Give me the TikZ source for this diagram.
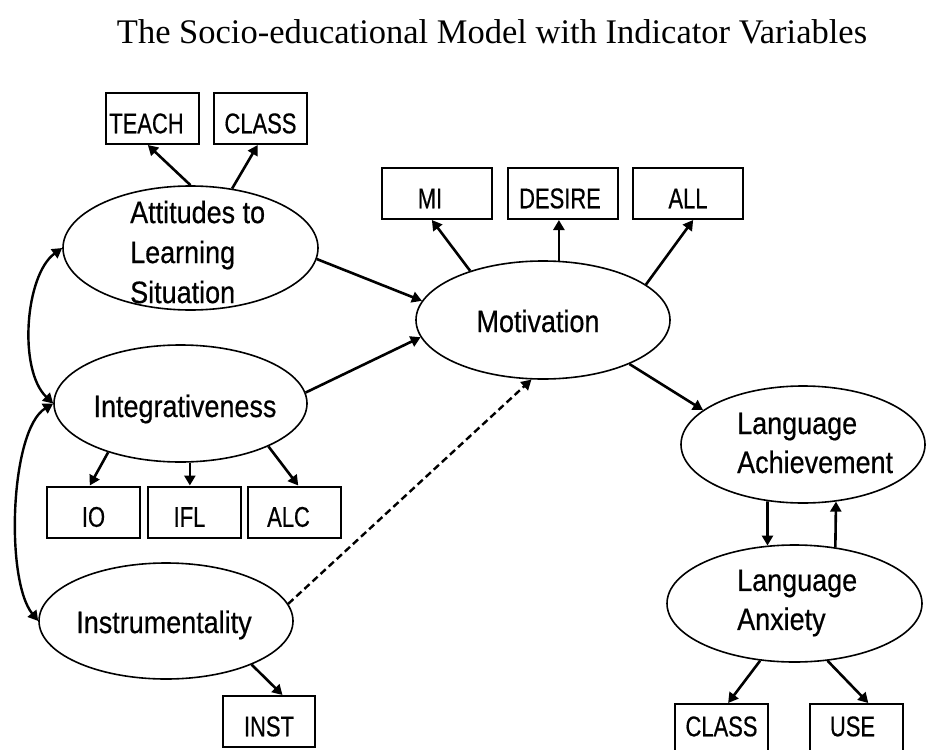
\documentclass[tikz,border=0pt]{standalone}
\usepackage{fontspec}
\setmainfont{Liberation Serif}
\newfontfamily\ellfont[FakeStretch=0.87,FakeBold=0.5]{Liberation Sans}
\newfontfamily\boxfont[FakeStretch=0.77,FakeBold=0.5]{Liberation Sans}
\newcommand{\lsh}[1]{\hspace*{-#1pt}}
\usetikzlibrary{shapes.geometric,arrows.meta}
\begin{document}
\begin{tikzpicture}[x=1pt,y=-1pt,
  lat/.style={ellipse, draw, line width=1.6pt, inner sep=0pt},
  ltxt/.style={font=\ellfont\fontsize{31}{40}\selectfont, inner sep=0pt, align=left},
  ltxtb/.style={font=\ellfont\fontsize{31}{39}\selectfont, inner sep=0pt, align=left},
  ind/.style={rectangle, draw, line width=2pt, inner sep=0pt, minimum width=93pt, minimum height=51pt,
    font=\boxfont\fontsize{28.5}{30}\selectfont, text height=29.5pt, text depth=0pt},
  indlow/.style={ind, text height=20.5pt, text depth=7pt},
  arr/.style={line width=2.6pt, -{Triangle[length=10pt,width=11pt]}},
  corr/.style={line width=2.4pt, {Triangle[length=10pt,width=11pt]}-{Triangle[length=10pt,width=11pt]}},
  dsh/.style={arr, line width=2.4pt, dash pattern=on 7pt off 4pt}
]
\useasboundingbox (0,0) rectangle (928,749);
\clip (0,0) rectangle (928,749);

\node[font=\fontsize{34.5}{40}\selectfont, inner sep=0pt] (title) at (492,31.5) {The Socio-educational Model with Indicator Variables};

% latent variables
\node[lat, minimum width=255pt, minimum height=124pt] (att) at (190.5,248) {};
\node[lat, minimum width=253pt, minimum height=117pt] (int) at (180.5,403.5) {};
\node[lat, minimum width=254pt, minimum height=116pt] (ins) at (166,621) {};
\node[lat, minimum width=254pt, minimum height=118pt] (mot) at (543,320) {};
\node[lat, minimum width=244pt, minimum height=117pt] (ach) at (803,444.5) {};
\node[lat, minimum width=255pt, minimum height=117pt] (anx) at (794.5,603.5) {};

\node[ltxt, anchor=west] (attT) at (130,252) {Attitudes to\\Learning\\Situation};
\node[ltxt] (intT) at (185,409) {Integrativeness};
\node[ltxt] (insT) at (164,625) {Instrumentality};
\node[ltxt] (motT) at (538,321) {Motivation};
\node[ltxtb, anchor=west] (achT) at (737,443) {Language\\Achievement};
\node[ltxtb, anchor=west] (anxT) at (737,603) {Language\\Anxiety};

% indicators
\node[ind] (teach) at (152.5,118.5) {\lsh{12}TEACH};
\node[ind] (classa) at (260.5,118.5) {CLASS};
\node[ind, minimum width=110pt] (mi) at (437,193.5) {\lsh{14}MI};
\node[ind, minimum width=110pt] (desire) at (563,193.5) {\lsh{6}DESIRE};
\node[ind, minimum width=110pt] (all) at (688,193.5) {ALL};
\node[ind] (io) at (93.5,512) {IO};
\node[ind] (ifl) at (194.5,512) {\lsh{10}IFL};
\node[ind] (alc) at (294.5,512) {\lsh{12}ALC};
\node[ind, minimum width=92pt] (inst) at (269,721.5) {INST};
\node[indlow] (classb) at (721.5,729.5) {CLASS};
\node[indlow] (use) at (856.5,729.5) {\lsh{8}USE};

% loadings
\draw[arr] (att.90) -- (teach.-100);
\draw[arr] (att.55) -- (classa.-96);
\draw[arr] (mot.146) -- (mi.-101);
\draw[arr] (mot.75) -- (mot.75 |- desire.south);
\draw[arr] (mot.19) -- (all.-79);
\draw[arr] (int.-146) -- (io.98);
\draw[arr] (int.-81) -- (int.-81 |- ifl.north);
\draw[arr] (int.-26) -- (alc.82);
\draw[arr] (ins.-27) -- (inst.63);
\draw[arr] (anx.-121) -- (classb.76);
\draw[arr] (anx.-60) -- (use.66);

% structural paths
\draw[arr] (att.-5) -- (mot.171);
\draw[arr] (int.5) -- (mot.188);
\draw[dsh] (ins.8) -- (mot.-101);
\draw[arr] (mot.-27) -- (ach.161);
\draw[arr] (ach.-122) -- (anx.115);
\draw[arr] (anx.54) -- (ach.-60);

% correlations
\draw[corr] (att.west) .. controls (25,275) and (18,370) .. (int.west);
\draw[corr] (int.west) .. controls (10,430) and (5,580) .. (ins.west);
\end{tikzpicture}
\end{document}
